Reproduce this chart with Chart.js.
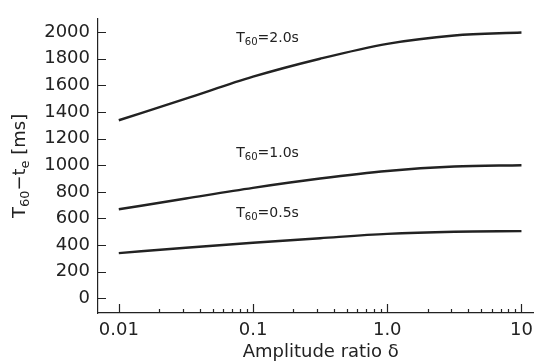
<!DOCTYPE html>
<html>
<head>
<meta charset="utf-8">
<script src="https://cdn.jsdelivr.net/npm/chart.js@4"></script>
<style>
  html, body { margin: 0; padding: 0; background: #fff; }
  #wrap { width: 540px; height: 364px; }
</style>
</head>
<body>
<div id="wrap"><canvas id="decayChart" width="540" height="364"></canvas></div>
<script>
// amplitude ratio delta (log axis)
var deltas = [0.01, 0.0316, 0.1, 0.316, 1, 3.16, 10];
// T60 - te in ms
var t60_20 = [1338, 1500, 1665, 1800, 1912, 1975, 1997];
var t60_10 = [669, 750, 830, 900, 957, 990, 1000];
var t60_05 = [340, 380, 418, 452, 484, 500, 505];
var curveNames = ["2.0s", "1.0s", "0.5s"];
var labelValues = [1955, 1090, 640]; // where the curve labels sit (y value)
var labelDelta = 0.075;

var yTicks = [0, 200, 400, 600, 800, 1000, 1200, 1400, 1600, 1800, 2000];
var xMajor = [0.01, 0.1, 1, 10];
var xTickLabels = ["0.01", "0.1", "1.0", "10"];
var xMinor = [];
[0.01, 0.1, 1].forEach(function (d) {
    for (var k = 2; k <= 9; k++) xMinor.push(+(d * k).toPrecision(2));
});

var ink = "#222";
var font = "'DejaVu Sans', sans-serif";

function makeSet(vals) {
    return {
        data: deltas.map(function (d, i) { return { x: d, y: vals[i] }; }),
        borderColor: ink,
        borderWidth: 2.4,
        pointRadius: 0,
        cubicInterpolationMode: "monotone",
        fill: false
    };
}

// draws text with a subscript, parts = [[text, sub?], ...]
function richText(ctx, parts, x, y, size, align) {
    var widths = parts.map(function (p) {
        ctx.font = (p[1] ? size * 0.72 : size) + "px " + font;
        return ctx.measureText(p[0]).width;
    });
    var total = widths.reduce(function (a, b) { return a + b; }, 0);
    var cx = align === "center" ? x - total / 2 : x;
    parts.forEach(function (p, i) {
        ctx.font = (p[1] ? size * 0.72 : size) + "px " + font;
        ctx.fillText(p[0], cx, p[1] ? y + size * 0.3 : y);
        cx += widths[i];
    });
}

var decor = {
    id: "decor",
    afterDraw: function (chart) {
        var ctx = chart.ctx;
        var xs = chart.scales.x, ys = chart.scales.y;
        var area = chart.chartArea;
        ctx.save();
        ctx.strokeStyle = ink;
        ctx.lineWidth = 1.2;
        // inward ticks
        ctx.beginPath();
        yTicks.forEach(function (v) {
            var py = Math.round(ys.getPixelForValue(v)) + 0.5;
            ctx.moveTo(area.left, py);
            ctx.lineTo(area.left + 8, py);
        });
        xMajor.forEach(function (v) {
            var px = Math.round(xs.getPixelForValue(v)) + 0.5;
            ctx.moveTo(px, area.bottom);
            ctx.lineTo(px, area.bottom - 9);
        });
        xMinor.forEach(function (v) {
            var px = Math.round(xs.getPixelForValue(v)) + 0.5;
            ctx.moveTo(px, area.bottom);
            ctx.lineTo(px, area.bottom - 4);
        });
        ctx.stroke();

        ctx.fillStyle = ink;
        ctx.textBaseline = "middle";
        ctx.textAlign = "left";
        // curve labels
        curveNames.forEach(function (n, i) {
            richText(ctx, [["T", false], ["60", true], ["=" + n, false]],
                xs.getPixelForValue(labelDelta), ys.getPixelForValue(labelValues[i]), 14, "left");
        });
        // x title
        richText(ctx, [["Amplitude ratio \u03b4", false]], (area.left + area.right) / 2 + 5, 352, 18, "center");
        // y title
        ctx.translate(20, (area.top + area.bottom) / 2);
        ctx.rotate(-Math.PI / 2);
        richText(ctx, [["T", false], ["60", true], ["\u2212t", false], ["e", true], [" [ms]", false]], 0, 0, 18, "center");
        ctx.restore();
    }
};

var ctx = document.getElementById("decayChart").getContext("2d");
var myChart = new Chart(ctx, {
    type: "line",
    data: {
        datasets: [makeSet(t60_20), makeSet(t60_10), makeSet(t60_05)]
    },
    options: {
        responsive: false,
        animation: false,
        layout: { padding: { top: 13, right: 3, left: 0, bottom: 0 } },
        plugins: { legend: { display: false }, tooltip: { enabled: false } },
        scales: {
            x: {
                type: "logarithmic",
                min: 0.007,
                max: 12.3,
                afterBuildTicks: function (scale) {
                    scale.ticks = xMajor.map(function (v) { return { value: v }; });
                },
                afterFit: function (scale) { scale.height = 51; },
                ticks: {
                    autoSkip: false,
                    maxRotation: 0,
                    padding: 7,
                    color: ink,
                    font: { family: font, size: 18 },
                    callback: function (v) { return xTickLabels[xMajor.indexOf(v)]; }
                },
                grid: { display: false, drawTicks: false },
                border: { display: true, color: ink, width: 1.2 }
            },
            y: {
                min: -110,
                max: 2100,
                afterBuildTicks: function (scale) {
                    scale.ticks = yTicks.map(function (v) { return { value: v }; });
                },
                afterFit: function (scale) { scale.width = 98; },
                ticks: {
                    padding: 8,
                    color: ink,
                    font: { family: font, size: 18 },
                    callback: function (v) { return String(v); }
                },
                grid: { display: false, drawTicks: false },
                border: { display: true, color: ink, width: 1.2 }
            }
        }
    },
    plugins: [decor]
});
</script>
</body>
</html>
